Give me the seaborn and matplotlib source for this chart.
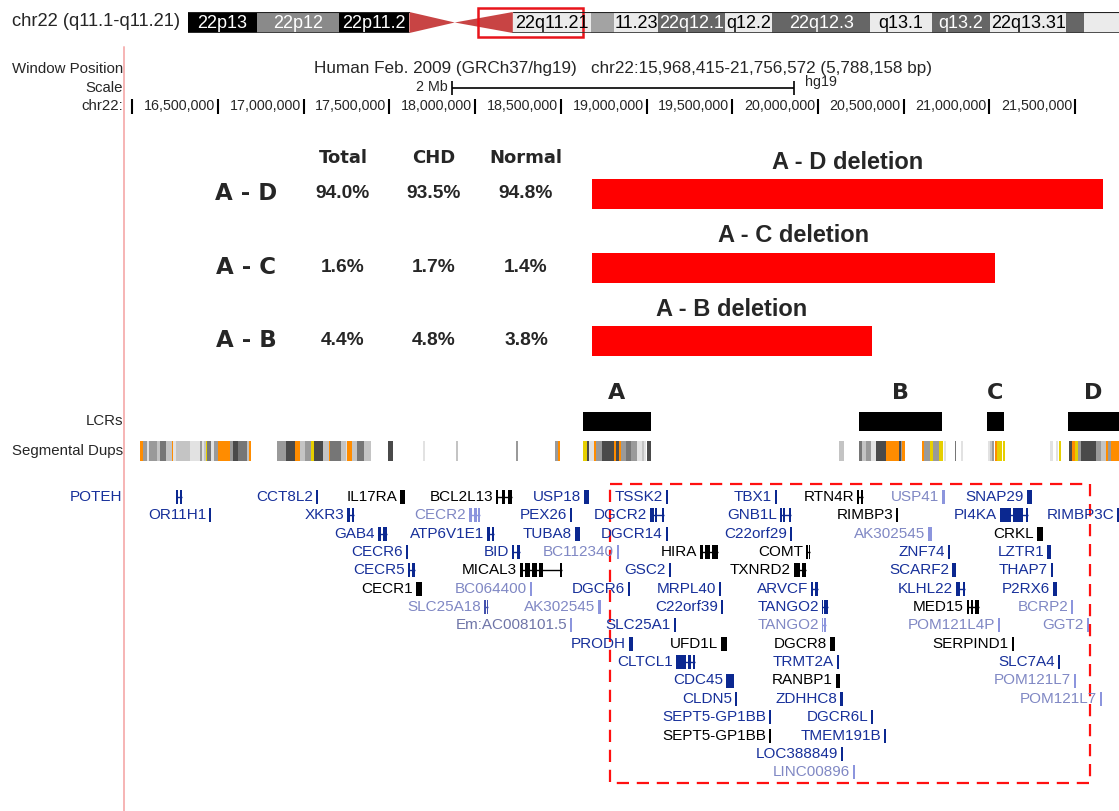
import numpy as np
import pandas as pd
import matplotlib
matplotlib.use("Agg")
import matplotlib.pyplot as plt
import seaborn as sns
from matplotlib.patches import Rectangle, Polygon
from matplotlib.lines import Line2D
from matplotlib.transforms import offset_copy, blended_transform_factory

# ------------------------------------------------------------------ data
WIN_START, WIN_END = 15.968415, 21.756572          # Mb, chr22 (hg19)
CHR_LEN = 51.304566
SCALE_BAR_MB = 2.0

BAND_START = [0.0, 3.8, 8.3, 12.2, 14.7, 17.9, 22.2, 23.5, 25.9, 29.6, 32.2, 37.6, 41.0, 44.2, 48.4, 49.4]
BAND_END = [3.8, 8.3, 12.2, 14.7, 17.9, 22.2, 23.5, 25.9, 29.6, 32.2, 37.6, 41.0, 44.2, 48.4, 49.4, 51.304566]
BAND_STAIN = ["gvar", "stalk", "gvar", "acen", "acen", "gneg", "gpos25", "gneg", "gpos50", "gneg",
              "gpos50", "gneg", "gpos50", "gneg", "gpos50", "gneg"]
BAND_LABEL = ["22p13", "22p12", "22p11.2", "", "", "22q11.21", "", "11.23", "22q12.1", "q12.2",
              "22q12.3", "q13.1", "q13.2", "22q13.31", "", ""]

TICKS = [16.0, 16.5, 17.0, 17.5, 18.0, 18.5, 19.0, 19.5, 20.0, 20.5, 21.0, 21.5]
TICK_LABELS = ["", "16,500,000", "17,000,000", "17,500,000", "18,000,000", "18,500,000", "19,000,000",
               "19,500,000", "20,000,000", "20,500,000", "21,000,000", "21,500,000"]

DEL_NAME = ["A - D", "A - C", "A - B"]
DEL_START = [18.682, 18.682, 18.682]
DEL_END = [21.663, 21.033, 20.315]
PCT_TOTAL = [94.0, 1.6, 4.4]
PCT_CHD = [93.5, 1.7, 4.8]
PCT_NORMAL = [94.8, 1.4, 3.8]

LCR_NAME = ["A", "B", "C", "D"]
LCR_START = [18.629, 20.240, 20.986, 21.459]
LCR_END = [19.026, 20.724, 21.086, 21.757]

SD_START = [16.044, 16.062, 16.085, 16.097, 16.143, 16.161, 16.196, 16.231, 16.237, 16.254, 16.336,
            16.359, 16.394, 16.406, 16.418, 16.429, 16.435, 16.459, 16.476, 16.499, 16.569, 16.587, 16.616,
            16.669, 16.680,
            16.844, 16.896, 16.949, 16.978, 17.007, 17.042, 17.060, 17.112, 17.147, 17.153, 17.217, 17.246,
            17.252, 17.281, 17.310, 17.351, 17.491, 17.695, 17.888, 18.238, 18.466, 18.483,
            18.629, 18.652, 18.664, 18.693, 18.705, 18.740, 18.810, 18.822, 18.839, 18.851, 18.880, 18.909,
            18.944, 18.973, 18.985, 19.003,
            20.123, 20.240, 20.257, 20.280, 20.309, 20.338, 20.368, 20.397, 20.473, 20.485, 20.490,
            20.607, 20.619, 20.654, 20.671, 20.706, 20.735, 20.800, 20.835,
            20.992, 21.004, 21.016, 21.033, 21.045, 21.080, 21.354, 21.389, 21.407,
            21.465, 21.482, 21.500, 21.517, 21.535, 21.622, 21.652, 21.681, 21.692, 21.710]
SD_END = [16.062, 16.085, 16.097, 16.143, 16.161, 16.196, 16.231, 16.237, 16.254, 16.336, 16.359,
          16.394, 16.406, 16.418, 16.429, 16.435, 16.459, 16.476, 16.499, 16.569, 16.587, 16.616, 16.669,
          16.680, 16.692,
          16.896, 16.949, 16.978, 17.007, 17.042, 17.060, 17.112, 17.147, 17.153, 17.217, 17.246, 17.252,
          17.281, 17.310, 17.351, 17.392, 17.521, 17.707, 17.900, 18.250, 18.483, 18.495,
          18.652, 18.664, 18.693, 18.705, 18.740, 18.810, 18.822, 18.839, 18.851, 18.880, 18.909, 18.944,
          18.973, 18.985, 18.997, 19.026,
          20.152, 20.257, 20.280, 20.309, 20.338, 20.368, 20.397, 20.473, 20.485, 20.490, 20.508,
          20.619, 20.654, 20.671, 20.706, 20.730, 20.747, 20.806, 20.847,
          21.004, 21.016, 21.027, 21.045, 21.074, 21.092, 21.372, 21.401, 21.418,
          21.482, 21.500, 21.517, 21.535, 21.622, 21.652, 21.681, 21.692, 21.710, 21.757]
SD_CLASS = ["O", "3", "1", "3", "2", "4", "2", "O", "1", "2", "1",
            "1", "3", "1", "2", "Y", "4", "1", "3", "O", "3", "5", "4",
            "2", "O",
            "3", "5", "O", "2", "3", "Y", "5", "2", "O", "4", "2", "1",
            "O", "2", "4", "2", "5", "1", "2", "3", "3", "O",
            "Y", "5", "1", "O", "3", "5", "O", "5", "O", "3", "4", "3",
            "1", "2", "1", "5",
            "2", "4", "2", "3", "1", "5", "5", "O", "5", "3", "O",
            "O", "3", "Y", "3", "Y", "1", "4", "1",
            "1", "2", "3", "O", "Y", "Y", "1", "1", "Y",
            "5", "O", "Y", "3", "5", "3", "2", "O", "3", "O"]

GENE_NAME = ["POTEH", "CCT8L2", "IL17RA", "BCL2L13", "USP18", "TSSK2", "TBX1", "RTN4R", "USP41", "SNAP29",
             "OR11H1", "XKR3", "CECR2", "PEX26", "DGCR2", "GNB1L", "RIMBP3", "PI4KA", "RIMBP3C",
             "GAB4", "ATP6V1E1", "TUBA8", "DGCR14", "C22orf29", "AK302545", "CRKL",
             "CECR6", "BID", "BC112340", "HIRA", "COMT", "ZNF74", "LZTR1",
             "CECR5", "MICAL3", "GSC2", "TXNRD2", "SCARF2", "THAP7",
             "CECR1", "BC064400", "DGCR6", "MRPL40", "ARVCF", "KLHL22", "P2RX6",
             "SLC25A18", "AK302545", "C22orf39", "TANGO2", "MED15", "BCRP2",
             "Em:AC008101.5", "SLC25A1", "TANGO2", "POM121L4P", "GGT2",
             "PRODH", "UFD1L", "DGCR8", "SERPIND1",
             "CLTCL1", "TRMT2A", "SLC7A4",
             "CDC45", "RANBP1", "POM121L7",
             "CLDN5", "ZDHHC8", "POM121L7",
             "SEPT5-GP1BB", "DGCR6L",
             "SEPT5-GP1BB", "TMEM191B",
             "LOC388849",
             "LINC00896"]
GENE_ROW = [0] * 10 + [1] * 9 + [2] * 7 + [3] * 7 + [4] * 6 + [5] * 7 + [6] * 6 + [7] * 5 + [8] * 4 + \
           [9] * 3 + [10] * 3 + [11] * 3 + [12] * 2 + [13] * 2 + [14] + [15]
GENE_TYPE = ["d", "d", "k", "k", "d", "d", "d", "k", "l", "d",
             "d", "d", "l", "d", "d", "d", "k", "d", "d",
             "d", "d", "d", "d", "d", "l", "k",
             "d", "d", "l", "k", "k", "d", "d",
             "d", "k", "d", "k", "d", "d",
             "k", "l", "d", "d", "d", "d", "d",
             "m", "l", "d", "d", "k", "l",
             "g", "d", "l", "l", "l",
             "d", "k", "k", "k",
             "d", "d", "d",
             "d", "k", "l",
             "d", "d", "l",
             "d", "d",
             "k", "d",
             "d",
             "l"]
GENE_START = [16.254, 17.071, 17.561, 18.122, 18.635, 19.113, 19.749, 20.228, 20.724, 21.220,
              16.447, 17.252, 17.964, 18.553, 19.020, 19.779, 20.456, 21.062, 21.745,
              17.433, 18.069, 18.582, 19.113, 19.837, 20.642, 21.278,
              17.596, 18.215, 18.828, 19.312, 19.930, 20.759, 21.337,
              17.608, 18.262, 19.131, 19.860, 20.782, 21.360,
              17.655, 18.320, 18.892, 19.423, 19.960, 20.806, 21.372,
              18.052, 18.717, 19.434, 20.024, 20.870, 21.477,
              18.553, 19.160, 20.024, 21.051, 21.570,
              18.898, 19.434, 20.070, 21.132,
              19.172, 20.111, 21.401,
              19.464, 20.105, 21.494,
              19.516, 20.129, 21.646,
              19.714, 20.310,
              19.714, 20.386,
              20.134,
              20.205]
GENE_END = [16.289, 17.083, 17.591, 18.215, 18.664, 19.125, 19.761, 20.263, 20.741, 21.249,
            16.459, 17.293, 18.028, 18.565, 19.102, 19.843, 20.467, 21.226, 21.757,
            17.486, 18.110, 18.612, 19.125, 19.849, 20.666, 21.313,
            17.608, 18.262, 18.840, 19.417, 19.954, 20.771, 21.360,
            17.649, 18.507, 19.143, 19.930, 20.806, 21.372,
            17.690, 18.332, 18.904, 19.435, 20.000, 20.858, 21.395,
            18.075, 18.734, 19.446, 20.059, 20.940, 21.489,
            18.565, 19.172, 20.047, 21.063, 21.582,
            18.921, 19.469, 20.100, 21.144,
            19.283, 20.123, 21.413,
            19.510, 20.129, 21.506,
            19.528, 20.146, 21.658,
            19.726, 20.322,
            19.726, 20.398,
            20.146,
            20.217]
GENE_EXONS = {
    ("POTEH", 0): [(16.254, 16.266), (16.277, 16.289)],
    ("BCL2L13", 0): [(18.122, 18.136), (18.157, 18.172), (18.194, 18.215)],
    ("RTN4R", 0): [(20.228, 20.240), (20.251, 20.263)],
    ("XKR3", 1): [(17.252, 17.270), (17.281, 17.293)],
    ("CECR2", 1): [(17.964, 17.982), (17.993, 18.010), (18.016, 18.028)],
    ("DGCR2", 1): [(19.020, 19.044), (19.050, 19.062), (19.090, 19.102)],
    ("GNB1L", 1): [(19.779, 19.791), (19.797, 19.808), (19.831, 19.843)],
    ("PI4KA", 1): [(21.062, 21.127), (21.138, 21.197), (21.214, 21.226)],
    ("GAB4", 2): [(17.433, 17.451), (17.462, 17.486)],
    ("ATP6V1E1", 2): [(18.069, 18.087), (18.098, 18.110)],
    ("BID", 3): [(18.215, 18.227), (18.245, 18.262)],
    ("HIRA", 3): [(19.312, 19.330), (19.341, 19.370), (19.382, 19.417)],
    ("COMT", 3): [(19.930, 19.942), (19.948, 19.954)],
    ("CECR5", 4): [(17.608, 17.620), (17.631, 17.649)],
    ("MICAL3", 4): [(18.262, 18.280), (18.291, 18.320), (18.332, 18.362), (18.373, 18.396), (18.495, 18.507)],
    ("TXNRD2", 4): [(19.860, 19.895), (19.907, 19.930)],
    ("ARVCF", 5): [(19.960, 19.972), (19.983, 20.000)],
    ("KLHL22", 5): [(20.806, 20.829), (20.847, 20.858)],
    ("SLC25A18", 6): [(18.052, 18.063), (18.069, 18.075)],
    ("TANGO2", 6): [(20.024, 20.030), (20.036, 20.059)],
    ("MED15", 6): [(20.870, 20.882), (20.893, 20.905), (20.917, 20.940)],
    ("TANGO2", 7): [(20.024, 20.030), (20.036, 20.047)],
    ("CLTCL1", 9): [(19.172, 19.230), (19.242, 19.260), (19.271, 19.283)],
}
HIGHLIGHT_START, HIGHLIGHT_END = 18.787, 21.587

# ------------------------------------------------------------------ style
W, H = 1119, 811
sns.set_theme(style="white")
plt.rcParams["font.family"] = ["Liberation Sans", "DejaVu Sans"]

STAIN_COLOR = {"gvar": "#000000", "stalk": "#8a8a8a", "gneg": "#ebebeb", "gpos25": "#a3a3a3",
               "gpos50": "#666666", "acen": "#c84444"}
SD_COLOR = {"O": "#ff8c00", "Y": "#e6cf00", "1": "#e2e2e2", "2": "#c4c4c4", "3": "#9a9a9a",
            "4": "#767676", "5": "#4a4a4a"}
GENE_TEXT = {"d": "#17309a", "k": "#000000", "l": "#8088c4", "m": "#8088c4", "g": "#6f75a8"}
GENE_GLYPH = {"d": "#0b2890", "k": "#000000", "l": "#8c95dd", "m": "#4451ad", "g": "#8c95dd"}

fig = plt.figure(figsize=(W / 100, H / 100), dpi=100)
fig.patch.set_facecolor("white")


def fx(px):
    return px / W


def fy(py):
    return 1 - py / H


# ------------------------------------------------------------------ ideogram
fig.text(fx(12), fy(22), "chr22 (q11.1-q11.21)", ha="left", va="center", fontsize=13.2)
axi = fig.add_axes([fx(188), fy(33), fx(931), 21 / H])
axi.set_xlim(0, CHR_LEN)
axi.set_ylim(0, 1)
axi.axis("off")
for s, e, st, lab in zip(BAND_START, BAND_END, BAND_STAIN, BAND_LABEL):
    if st == "acen":
        continue
    axi.barh(0.5, e - s, left=s, height=1, color=STAIN_COLOR[st], linewidth=0)
    if lab:
        tc = "white" if st in ("gvar", "stalk", "gpos50") else "black"
        axi.text((s + e) / 2, 0.47, lab, ha="center", va="center", color=tc, fontsize=13, clip_on=False)
acen_idx = [i for i, st in enumerate(BAND_STAIN) if st == "acen"]
p_s, p_e = BAND_START[acen_idx[0]], BAND_END[acen_idx[0]]
q_s, q_e = BAND_START[acen_idx[1]], BAND_END[acen_idx[1]]
axi.add_patch(Polygon([(p_s, 0), (p_s, 1), (p_e, 0.5)], closed=True, color=STAIN_COLOR["acen"], lw=0))
axi.add_patch(Polygon([(q_s, 0.5), (q_e, 1), (q_e, 0)], closed=True, color=STAIN_COLOR["acen"], lw=0))
for a, b in [(0, p_s), (q_e, CHR_LEN)]:
    axi.plot([a, b], [0.99, 0.99], color="#222222", lw=0.8)
    axi.plot([a, b], [0.02, 0.02], color="#333333", lw=1.2)
axi.add_patch(Rectangle((WIN_START, -0.19), WIN_END - WIN_START, 1.38, fill=False,
                        edgecolor="#e8141b", lw=1.8, clip_on=False))

# ------------------------------------------------------------------ left margin labels
for txt, y in [("Window Position", 69), ("Scale", 88), ("chr22:", 106), ("LCRs", 421), ("Segmental Dups", 451)]:
    fig.text(fx(123), fy(y), txt, ha="right", va="center", fontsize=10.8)
fig.add_artist(Line2D([fx(124), fx(124)], [fy(47), 0], color="#f6b4b4", lw=1.4, transform=fig.transFigure))

# ------------------------------------------------------------------ main track axes (x in Mb, y in rows)
ax = fig.add_axes([fx(127), 0, fx(992), 1])
ax.set_xlim(WIN_START, WIN_END)
ax.set_ylim(H, 0)
ax.axis("off")
mid = (WIN_START + WIN_END) / 2

ax.text(mid, 68, "Human Feb. 2009 (GRCh37/hg19)   chr22:15,968,415-21,756,572 (5,788,158 bp)",
        ha="center", va="center", fontsize=12.3)
# scale bar
sb0, sb1 = mid - SCALE_BAR_MB / 2, mid + SCALE_BAR_MB / 2
ax.hlines(88, sb0, sb1, color="black", lw=1.2)
ax.vlines([sb0, sb1], 81, 95, color="black", lw=1.2)
ax.text(sb0, 87, "2 Mb", ha="right", va="center", fontsize=10.3,
        transform=offset_copy(ax.transData, fig=fig, x=-4, y=0, units="dots"))
ax.text(sb1, 82, "hg19", ha="left", va="center", fontsize=10.3,
        transform=offset_copy(ax.transData, fig=fig, x=11, y=0, units="dots"))
# ruler
ax.vlines(TICKS, 99, 114, color="black", lw=1.5)
tick_tr = offset_copy(ax.transData, fig=fig, x=-3, y=0, units="dots")
for t, lab in zip(TICKS, TICK_LABELS):
    if lab:
        ax.text(t, 106, lab, ha="right", va="center", fontsize=10.3, transform=tick_tr)

# ------------------------------------------------------------------ deletions (seaborn bars)
axd = fig.add_axes([fx(127), fy(377.75), fx(992), 220.5 / H])
df_del = pd.DataFrame({"deletion": DEL_NAME,
                       "length": np.subtract(DEL_END, DEL_START),
                       "start": DEL_START})
try:
    sns.barplot(data=df_del, x="length", y="deletion", left=df_del["start"].to_numpy(),
                color="#ff0000", saturation=1, width=30 / 73.5, orient="y", ax=axd)
except TypeError:
    axd.barh(np.arange(len(DEL_NAME)), df_del["length"], left=df_del["start"],
             height=30 / 73.5, color="#ff0000")
for p in axd.patches:
    p.set_linewidth(0)
axd.set_xlim(WIN_START, WIN_END)
axd.set_ylim(2.5, -0.5)
axd.axis("off")
for i, (n, s, e) in enumerate(zip(DEL_NAME, DEL_START, DEL_END)):
    axd.text((s + e) / 2, i - 0.43, f"{n} deletion", ha="center", va="center",
             fontsize=17, fontweight="bold")

row_tr = blended_transform_factory(fig.transFigure, axd.transData)
BIG = dict(family="DejaVu Sans", fontweight="bold")
for hdr, x in [("Total", 343), ("CHD", 434), ("Normal", 526)]:
    fig.text(fx(x), fy(158), hdr, ha="center", va="center", fontsize=13, **BIG)
for i, n in enumerate(DEL_NAME):
    fig.text(fx(246), i, n, ha="center", va="center", fontsize=16.5, transform=row_tr, **BIG)
    for vals, x in [(PCT_TOTAL, 343), (PCT_CHD, 434), (PCT_NORMAL, 526)]:
        fig.text(fx(x), i, f"{vals[i]:.1f}%", ha="center", va="center", fontsize=13.8,
                 fontweight="bold", transform=row_tr)

# ------------------------------------------------------------------ LCRs
ax.barh(421, np.subtract(LCR_END, LCR_START), left=LCR_START, height=19, color="black", linewidth=0)
for n, s, e in zip(LCR_NAME, LCR_START, LCR_END):
    c = (max(s, WIN_START) + min(e, WIN_END)) / 2
    ax.text(c, 393, n, ha="center", va="center", fontsize=16, **BIG)

# ------------------------------------------------------------------ segmental dups
ax.barh(450.5, np.subtract(SD_END, SD_START), left=SD_START, height=20,
        color=[SD_COLOR[c] for c in SD_CLASS], linewidth=0)

# ------------------------------------------------------------------ genes
ROW0, ROW_H = 497, 18.35
lab_tr = offset_copy(ax.transData, fig=fig, x=-3, y=0, units="dots")
for name, row, typ, s, e in zip(GENE_NAME, GENE_ROW, GENE_TYPE, GENE_START, GENE_END):
    y = ROW0 + row * ROW_H
    exons = GENE_EXONS.get((name, row), [(s, e)])
    if len(exons) > 1:
        ax.hlines(y, s, e, color=GENE_GLYPH[typ], lw=1)
    ax.barh(y, [b - a for a, b in exons], left=[a for a, _ in exons], height=14,
            color=GENE_GLYPH[typ], linewidth=0)
    if name == "POTEH":
        fig.text(fx(122), fy(y), name, ha="right", va="center", fontsize=11, color=GENE_TEXT[typ])
    else:
        ax.text(s, y, name, ha="right", va="center", fontsize=11, color=GENE_TEXT[typ],
                transform=lab_tr, clip_on=False)

# highlighted region
ax.add_patch(Rectangle((HIGHLIGHT_START, 484), HIGHLIGHT_END - HIGHLIGHT_START, 299, fill=False,
                       edgecolor="#ff1010", lw=1.6, linestyle=(0, (5.5, 3.5))))

fig.savefig("out.png", dpi=100, facecolor="white")
